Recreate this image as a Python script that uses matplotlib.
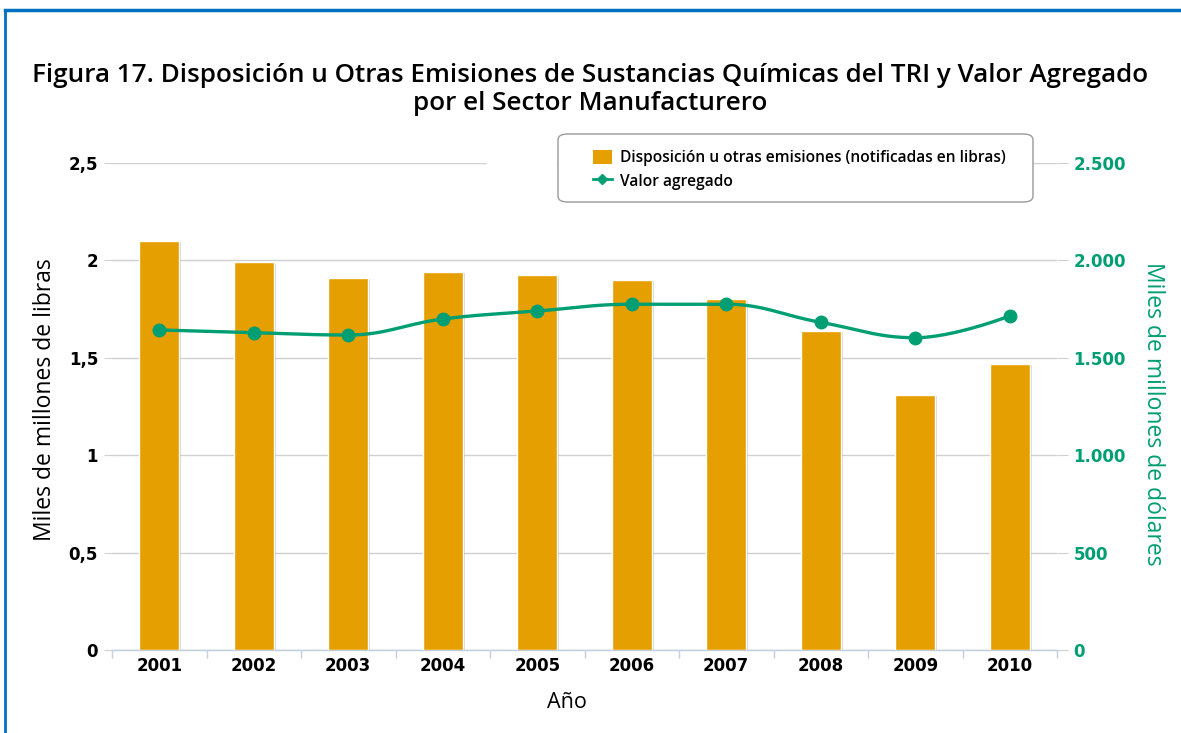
import numpy as np
import matplotlib
matplotlib.use("Agg")
import matplotlib.pyplot as plt
from matplotlib.patches import Patch, FancyBboxPatch, Rectangle
from matplotlib.lines import Line2D
import matplotlib.patheffects as pe

# ---------------- data ----------------
years = ["2001", "2002", "2003", "2004", "2005", "2006", "2007", "2008", "2009", "2010"]
disposicion = [2.10, 1.99, 1.91, 1.94, 1.925, 1.90, 1.80, 1.64, 1.31, 1.47]   # miles de millones de libras
valor_agregado = [1643, 1629, 1617, 1699, 1740, 1775, 1775, 1682, 1603, 1715]  # miles de millones de dólares
left_ticks = [0, 0.5, 1, 1.5, 2, 2.5]
left_ticklabels = ["0", "0,5", "1", "1,5", "2", "2,5"]
right_ticks = [0, 500, 1000, 1500, 2000, 2500]
right_ticklabels = ["0", "500", "1.000", "1.500", "2.000", "2.500"]

ORANGE = "#E69F00"
GREEN = "#009E73"
W, H = 1181, 733

fig = plt.figure(figsize=(W / 100, H / 100), dpi=100)
fig.patch.set_facecolor("white")

def fx(px):
    return px / W

def fy(py):
    return 1 - py / H

ax = fig.add_axes([fx(112), fy(650), fx(1057) - fx(112), fy(163) - fy(650)])
ax2 = ax.twinx()

x = np.arange(len(years))

# bars
bars = ax.bar(x, disposicion, width=0.42, color=ORANGE, edgecolor="white", linewidth=1.0, zorder=3)
for b in bars:
    b.set_path_effects([pe.SimplePatchShadow(offset=(1.5, -1.0), shadow_rgbFace="#888888", alpha=0.35), pe.Normal()])

# Highcharts-like spline through the points
def spline_curve(xs, ys, smoothing=1.5, n=30):
    xs = list(map(float, xs)); ys = list(map(float, ys))
    m = len(xs)
    lc = [None] * m
    rc = [None] * m
    denom = smoothing + 1
    for i in range(m):
        if 0 < i < m - 1:
            lx, ly = xs[i - 1], ys[i - 1]
            nx, ny = xs[i + 1], ys[i + 1]
            px, py = xs[i], ys[i]
            lcx = (smoothing * px + lx) / denom
            lcy = (smoothing * py + ly) / denom
            rcx = (smoothing * px + nx) / denom
            rcy = (smoothing * py + ny) / denom
            if rcx != lcx:
                corr = ((rcy - lcy) * (rcx - px)) / (rcx - lcx) + py - rcy
                lcy += corr
                rcy += corr
            if lcy > ly and lcy > py:
                lcy = max(ly, py); rcy = 2 * py - lcy
            elif lcy < ly and lcy < py:
                lcy = min(ly, py); rcy = 2 * py - lcy
            if rcy > ny and rcy > py:
                rcy = max(ny, py); lcy = 2 * py - rcy
            elif rcy < ny and rcy < py:
                rcy = min(ny, py); lcy = 2 * py - rcy
            lc[i] = (lcx, lcy)
            rc[i] = (rcx, rcy)
        else:
            lc[i] = (xs[i], ys[i])
            rc[i] = (xs[i], ys[i])
    outx, outy = [xs[0]], [ys[0]]
    t = np.linspace(0, 1, n)[1:]
    for i in range(1, m):
        p0 = np.array([xs[i - 1], ys[i - 1]])
        p1 = np.array(rc[i - 1])
        p2 = np.array(lc[i])
        p3 = np.array([xs[i], ys[i]])
        pts = ((1 - t) ** 3)[:, None] * p0 + (3 * (1 - t) ** 2 * t)[:, None] * p1 \
            + (3 * (1 - t) * t ** 2)[:, None] * p2 + (t ** 3)[:, None] * p3
        outx.extend(pts[:, 0]); outy.extend(pts[:, 1])
    return np.array(outx), np.array(outy)

sx, sy = spline_curve(x, valor_agregado)
ax2.plot(sx, sy, color=GREEN, lw=2.4, zorder=4, solid_capstyle="round")
ax2.plot(x, valor_agregado, linestyle="none", marker="o", markersize=9, color=GREEN, zorder=5)

# axes styling
ax.set_xlim(-0.5, len(years) - 0.5)
ax.set_ylim(0, 2.5)
ax2.set_ylim(0, 2500)
ax.set_zorder(ax2.get_zorder() - 1)
ax.patch.set_visible(False)

ax.set_yticks(left_ticks)
ax.set_yticklabels(left_ticklabels, fontsize=12, fontweight="bold", family="DejaVu Sans")
ax2.set_yticks(right_ticks)
ax2.set_yticklabels(right_ticklabels, fontsize=12, fontweight="bold", family="DejaVu Sans", color=GREEN)

ax.set_xticks(x)
ax.set_xticklabels(years, fontsize=12, fontweight="bold", family="DejaVu Sans")
ax.set_xticks(np.arange(-0.5, len(years)), minor=True)
ax.tick_params(axis="x", which="major", length=0, pad=5)
ax.tick_params(axis="x", which="minor", length=6, color="#C0D0E0", width=1)
ax.tick_params(axis="y", length=6, color="#D0D0D0", pad=4)
ax2.tick_params(axis="y", length=8, color="#D0D0D0", pad=4)

ax.grid(axis="y", color="#D0D0D0", lw=1, zorder=0)
ax.set_axisbelow(True)
for a in (ax, ax2):
    for s in ("top", "left", "right", "bottom"):
        a.spines[s].set_visible(False)
ax.spines["bottom"].set_visible(True)
ax.spines["bottom"].set_color("#C0D0E0")
ax.spines["bottom"].set_linewidth(1)

ax.set_ylabel("Miles de millones de libras", fontsize=16.5, family="Open Sans")
ax2.set_ylabel("Miles de millones de dólares", fontsize=16.5, family="Open Sans", color=GREEN, rotation=-90)
ax.yaxis.set_label_coords(fx(45), fy(400), transform=fig.transFigure)
ax2.yaxis.set_label_coords(fx(1153), fy(414), transform=fig.transFigure)
ax.yaxis.label.set_va("center")
ax2.yaxis.label.set_va("center")
ax.set_xlabel("Año", fontsize=15.5, family="Open Sans")
ax.xaxis.set_label_coords(fx(567), fy(702), transform=fig.transFigure)
ax.xaxis.label.set_va("center")

# title
fig.text(0.5, fy(75), "Figura 17. Disposición u Otras Emisiones de Sustancias Químicas del TRI y Valor Agregado",
         ha="center", va="center", fontsize=18.7, fontweight="semibold", family="Open Sans")
fig.text(0.5, fy(103), "por el Sector Manufacturero",
         ha="center", va="center", fontsize=18.7, fontweight="semibold", family="Open Sans")

# legend box
fig.patches.append(Rectangle((fx(487), fy(166)), fx(557) - fx(487), 6 / H, transform=fig.transFigure,
                             facecolor="white", edgecolor="none", zorder=9))
fig.patches.append(FancyBboxPatch((fx(558), fy(202)), fx(1033) - fx(558), fy(134) - fy(202),
                                  boxstyle="round,pad=0,rounding_size=0.008", transform=fig.transFigure,
                                  facecolor="white", edgecolor="#999999", lw=1, zorder=10))
handles = [Patch(facecolor=ORANGE, edgecolor="none"),
           Line2D([0], [0], color=GREEN, lw=2, marker="D", markersize=5)]
labels = ["Disposición u otras emisiones (notificadas en libras)", "Valor agregado"]
leg = fig.legend(handles, labels, loc="upper left", bbox_to_anchor=(fx(593), fy(150)),
                 frameon=False, prop={"family": "Open Sans", "size": 11.2, "weight": "semibold"},
                 handlelength=1.2, handleheight=1.0, handletextpad=0.55, labelspacing=0.45,
                 borderaxespad=0, borderpad=0)
leg.set_zorder(11)

# blue border (top and left)
fig.add_artist(Line2D([fx(5), 1], [fy(10), fy(10)], color="#0070C0", lw=2.5, transform=fig.transFigure))
fig.add_artist(Line2D([fx(5), fx(5)], [0, fy(10)], color="#0070C0", lw=2.0, transform=fig.transFigure))

fig.savefig("out.png", dpi=100)
